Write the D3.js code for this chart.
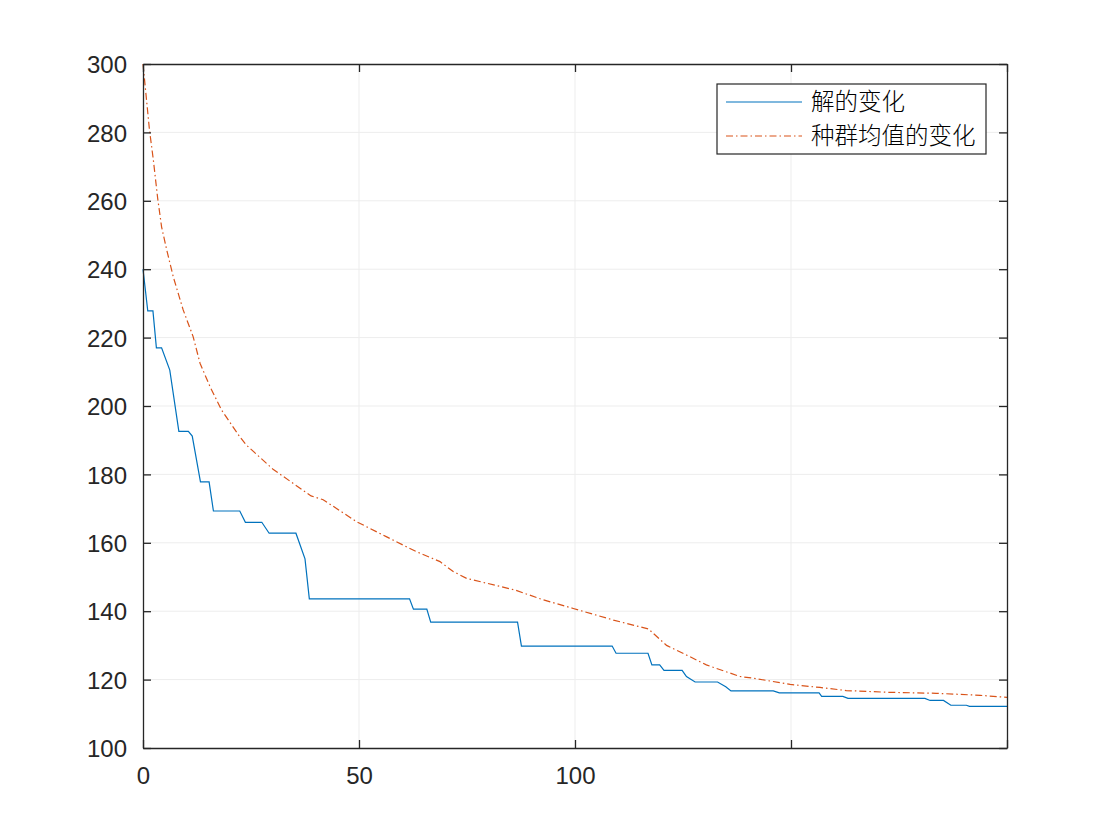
<!DOCTYPE html>
<html>
<head>
<meta charset="utf-8">
<script src="https://cdn.jsdelivr.net/npm/d3@7.9.0/dist/d3.min.js"></script>
<style>
  body { margin: 0; background: #fff; }
  text { font-family: "Liberation Sans", Arial, sans-serif; }
</style>
</head>
<body>
<svg id="chart" width="1109" height="832"></svg>
<script>
// vertices: [generation, value]
const bestSeries = [
  [0, 240], [1.1, 227.8], [2.3, 227.8], [3.1, 217], [4.3, 217], [6.2, 210.5],
  [8.3, 192.6], [10.5, 192.6], [11.4, 191.2], [13.3, 177.8], [15.3, 177.8],
  [16.3, 169.3], [22.4, 169.3], [23.7, 166], [27.5, 166], [29.2, 162.8],
  [35.4, 162.8], [37.5, 155.3], [38.5, 143.6], [61.7, 143.6], [62.6, 140.6],
  [65.7, 140.6], [66.6, 136.8], [86.7, 136.8], [87.6, 129.8], [108.6, 129.8],
  [109.5, 127.7], [116.9, 127.7], [117.8, 124.3], [119.6, 124.3], [120.6, 122.7],
  [124.8, 122.7], [125.8, 120.9], [127.8, 119.3], [133, 119.3], [134.9, 117.9],
  [136.1, 116.7], [145.9, 116.7], [147.3, 116.1], [156.5, 116.1], [157.1, 115.1],
  [162, 115.1], [163.2, 114.5], [181, 114.5], [182.2, 113.9], [185.3, 113.9],
  [187, 112.5], [190.6, 112.5], [191.3, 112.2], [200, 112.2]
];

const meanSeries = [
  [0, 300], [1.5, 280.7], [2.4, 271.9], [3.4, 260.7], [4.3, 252.4], [5.5, 245.6],
  [7, 237.8], [9.3, 228.1], [11.6, 220.3], [13.2, 212.5], [15.5, 205.7],
  [18.2, 198.8], [22.4, 191], [23.9, 188.6], [30.1, 181.5], [38.9, 173.7],
  [41.7, 172.6], [49.4, 166.2], [56.3, 161.8], [63.3, 157.4], [68.75, 154.5],
  [71.8, 151.6], [74.9, 149.6], [86.1, 146.2], [92.7, 143.3], [99.6, 140.8],
  [108.9, 137.4], [117, 134.8], [121.2, 130], [126.6, 126.7], [130.4, 124.3],
  [138.2, 120.9], [141.3, 120.4], [149.8, 118.6], [156.7, 117.7], [162.8, 116.8],
  [172.1, 116.3], [183.6, 116], [193.8, 115.4], [200, 114.8]
];

const xTicks = [0, 50, 100, 150, 200];
const xTickLabels = ["0", "50", "100", "", ""];   // 150/200 labels are not visible in the original
const yTicks = [100, 120, 140, 160, 180, 200, 220, 240, 260, 280, 300];
const seriesNames = ["解的变化", "种群均值的变化"];

const svg = d3.select("#chart");
const margin = { top: 64, right: 102, bottom: 84, left: 143 };
const width = +svg.attr("width") - margin.left - margin.right;
const height = +svg.attr("height") - margin.top - margin.bottom;
const g = svg.append("g").attr("transform", `translate(${margin.left},${margin.top})`);

const x = d3.scaleLinear().domain([0, 200]).range([0, width]);
const y = d3.scaleLinear().domain([100, 300]).range([height, 0]);

// grid
g.append("g").selectAll("line").data(xTicks.slice(1, -1)).join("line")
  .attr("x1", d => x(d)).attr("x2", d => x(d))
  .attr("y1", 0).attr("y2", height)
  .attr("stroke", "#ededed").attr("stroke-width", 1);
g.append("g").selectAll("line").data(yTicks.slice(1, -1)).join("line")
  .attr("x1", 0).attr("x2", width)
  .attr("y1", d => y(d)).attr("y2", d => y(d))
  .attr("stroke", "#ededed").attr("stroke-width", 1);

const line = d3.line().x(d => x(d[0])).y(d => y(d[1]));

g.append("path").datum(bestSeries)
  .attr("fill", "none").attr("stroke", "#0072BD").attr("stroke-width", 1.2)
  .attr("d", line);

g.append("path").datum(meanSeries)
  .attr("fill", "none").attr("stroke", "#D95319").attr("stroke-width", 1.2)
  .attr("stroke-dasharray", "7,3,1.5,3")
  .attr("d", line);

// axes, ticks inward on all four sides (box on)
const axisColor = "#262626";
const tickFont = 24;

const axisBottomG = g.append("g").attr("transform", `translate(0,${height})`)
  .call(d3.axisBottom(x).tickValues(xTicks).tickFormat((d, i) => xTickLabels[i])
    .tickSizeInner(-8).tickSizeOuter(0).tickPadding(19));
const axisLeftG = g.append("g")
  .call(d3.axisLeft(y).tickValues(yTicks).tickFormat(d3.format("d"))
    .tickSizeInner(-8).tickSizeOuter(0).tickPadding(16));
const axisTopG = g.append("g")
  .call(d3.axisTop(x).tickValues(xTicks).tickFormat("").tickSizeInner(-8).tickSizeOuter(0));
const axisRightG = g.append("g").attr("transform", `translate(${width},0)`)
  .call(d3.axisRight(y).tickValues(yTicks).tickFormat("").tickSizeInner(-8).tickSizeOuter(0));

[axisBottomG, axisLeftG, axisTopG, axisRightG].forEach(a => {
  a.select(".domain").attr("stroke", axisColor).attr("stroke-width", 1.3);
  a.selectAll(".tick line").attr("stroke", axisColor).attr("stroke-width", 1.3);
  a.selectAll(".tick text").attr("fill", axisColor)
    .style("font-size", tickFont + "px").style("font-family", "'Liberation Sans', Arial, sans-serif");
});
axisLeftG.selectAll(".tick text").attr("dy", "0.36em");
axisBottomG.selectAll(".tick text").attr("dy", "0.72em");

// legend
const legend = svg.append("g").attr("transform", "translate(717,84)");
legend.append("rect")
  .attr("width", 269).attr("height", 70)
  .attr("fill", "#fff").attr("stroke", axisColor).attr("stroke-width", 1.2);

const legendStyles = [
  { color: "#0072BD", dash: null },
  { color: "#D95319", dash: "7,3,1.5,3" }
];
seriesNames.forEach((name, i) => {
  const yy = 18 + i * 34;
  legend.append("line")
    .attr("x1", 9).attr("x2", 85).attr("y1", yy).attr("y2", yy)
    .attr("stroke", legendStyles[i].color).attr("stroke-width", 1.2)
    .attr("stroke-dasharray", legendStyles[i].dash);
  legend.append("text")
    .attr("x", 94).attr("y", yy).attr("dy", "0.36em")
    .attr("fill", "#000")
    .style("font-family", "'Noto Sans CJK SC', sans-serif")
    .style("font-size", "23.5px")
    .style("font-weight", 300)
    .text(name);
});
</script>
</body>
</html>
